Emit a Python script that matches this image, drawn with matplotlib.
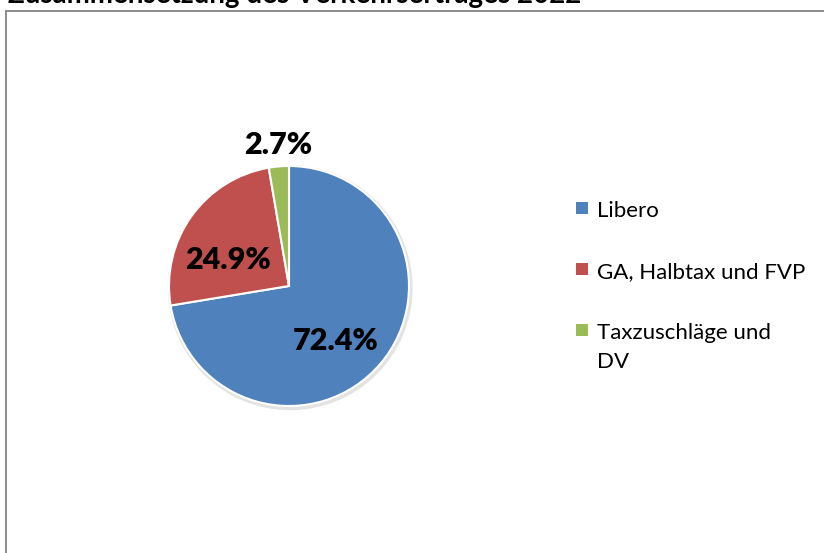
import matplotlib.pyplot as plt
from matplotlib.patches import Rectangle, Circle
import numpy as np

# Verkehrsertrag 2022, Anteile in %
labels = ['Libero', 'GA, Halbtax und FVP', 'Taxzuschläge und\nDV']
shares = [72.4, 24.9, 2.7]
colors = ['#4F81BD', '#C0504D', '#9BBB59']
pct_text = ['72.4%', '24.9%', '2.7%']

# where excel put the data labels (radius factor, angle in deg)
label_pos = [(0.60, -49.5), (0.55, 157.2), (1.18, 94.4)]

plt.rcParams['font.family'] = ['Lato', 'DejaVu Sans']

W, H = 824, 553
fig = plt.figure(figsize=(W / 100, H / 100), dpi=100)

# chart frame (runs off the right/bottom edge)
fig.patches.append(Rectangle((5.5 / W, -0.05), 1.0, 1 - 11 / H + 0.05,
                             transform=fig.transFigure, fill=False,
                             edgecolor='#8c8c8c', linewidth=1.4))

# title is clipped by the top edge in the original
fig.text(8 / W, 1 - 3 / H, 'Zusammensetzung des Verkehrsertrages 2022',
         fontsize=20, fontweight='bold', ha='left', va='baseline')

# pie: centre (289, 286) px, radius 121 px
cx, cy, r = 289, H - 286, 121
half = 150
ax = fig.add_axes([(cx - half) / W, (cy - half) / H, 2 * half / W, 2 * half / H])
lim = half / r
ax.set_xlim(-lim, lim)
ax.set_ylim(-lim, lim)
ax.set_aspect('equal')
ax.axis('off')

ax.add_patch(Circle((0.01, -0.015), 1.02, facecolor='#e3e3e3', edgecolor='none', zorder=0))
ax.pie(shares, colors=colors, startangle=90, counterclock=False, radius=1.0,
       wedgeprops=dict(edgecolor='white', linewidth=1.5))

for txt, (rf, ang) in zip(pct_text, label_pos):
    a = np.deg2rad(ang)
    ax.text(rf * np.cos(a), rf * np.sin(a), txt, fontsize=22, fontweight='heavy',
            ha='center', va='center')

# legend, drawn like excel's (marker aligned with first line)
y0, step, line_gap = 217, 61, 29
for i, (lab, col) in enumerate(zip(labels, colors)):
    base = y0 + i * step
    nlines = lab.count('\n') + 1
    fig.patches.append(Rectangle((576 / W, 1 - (base - 3) / H), 12 / W, 12 / H,
                                 transform=fig.transFigure, facecolor=col,
                                 edgecolor='none'))
    # va='baseline' sits on the last line, so shift down for wrapped labels
    fig.text(597 / W, 1 - (base + (nlines - 1) * line_gap) / H, lab, fontsize=16,
             ha='left', va='baseline', linespacing=1.55)

fig.savefig('out.png', dpi=100)
